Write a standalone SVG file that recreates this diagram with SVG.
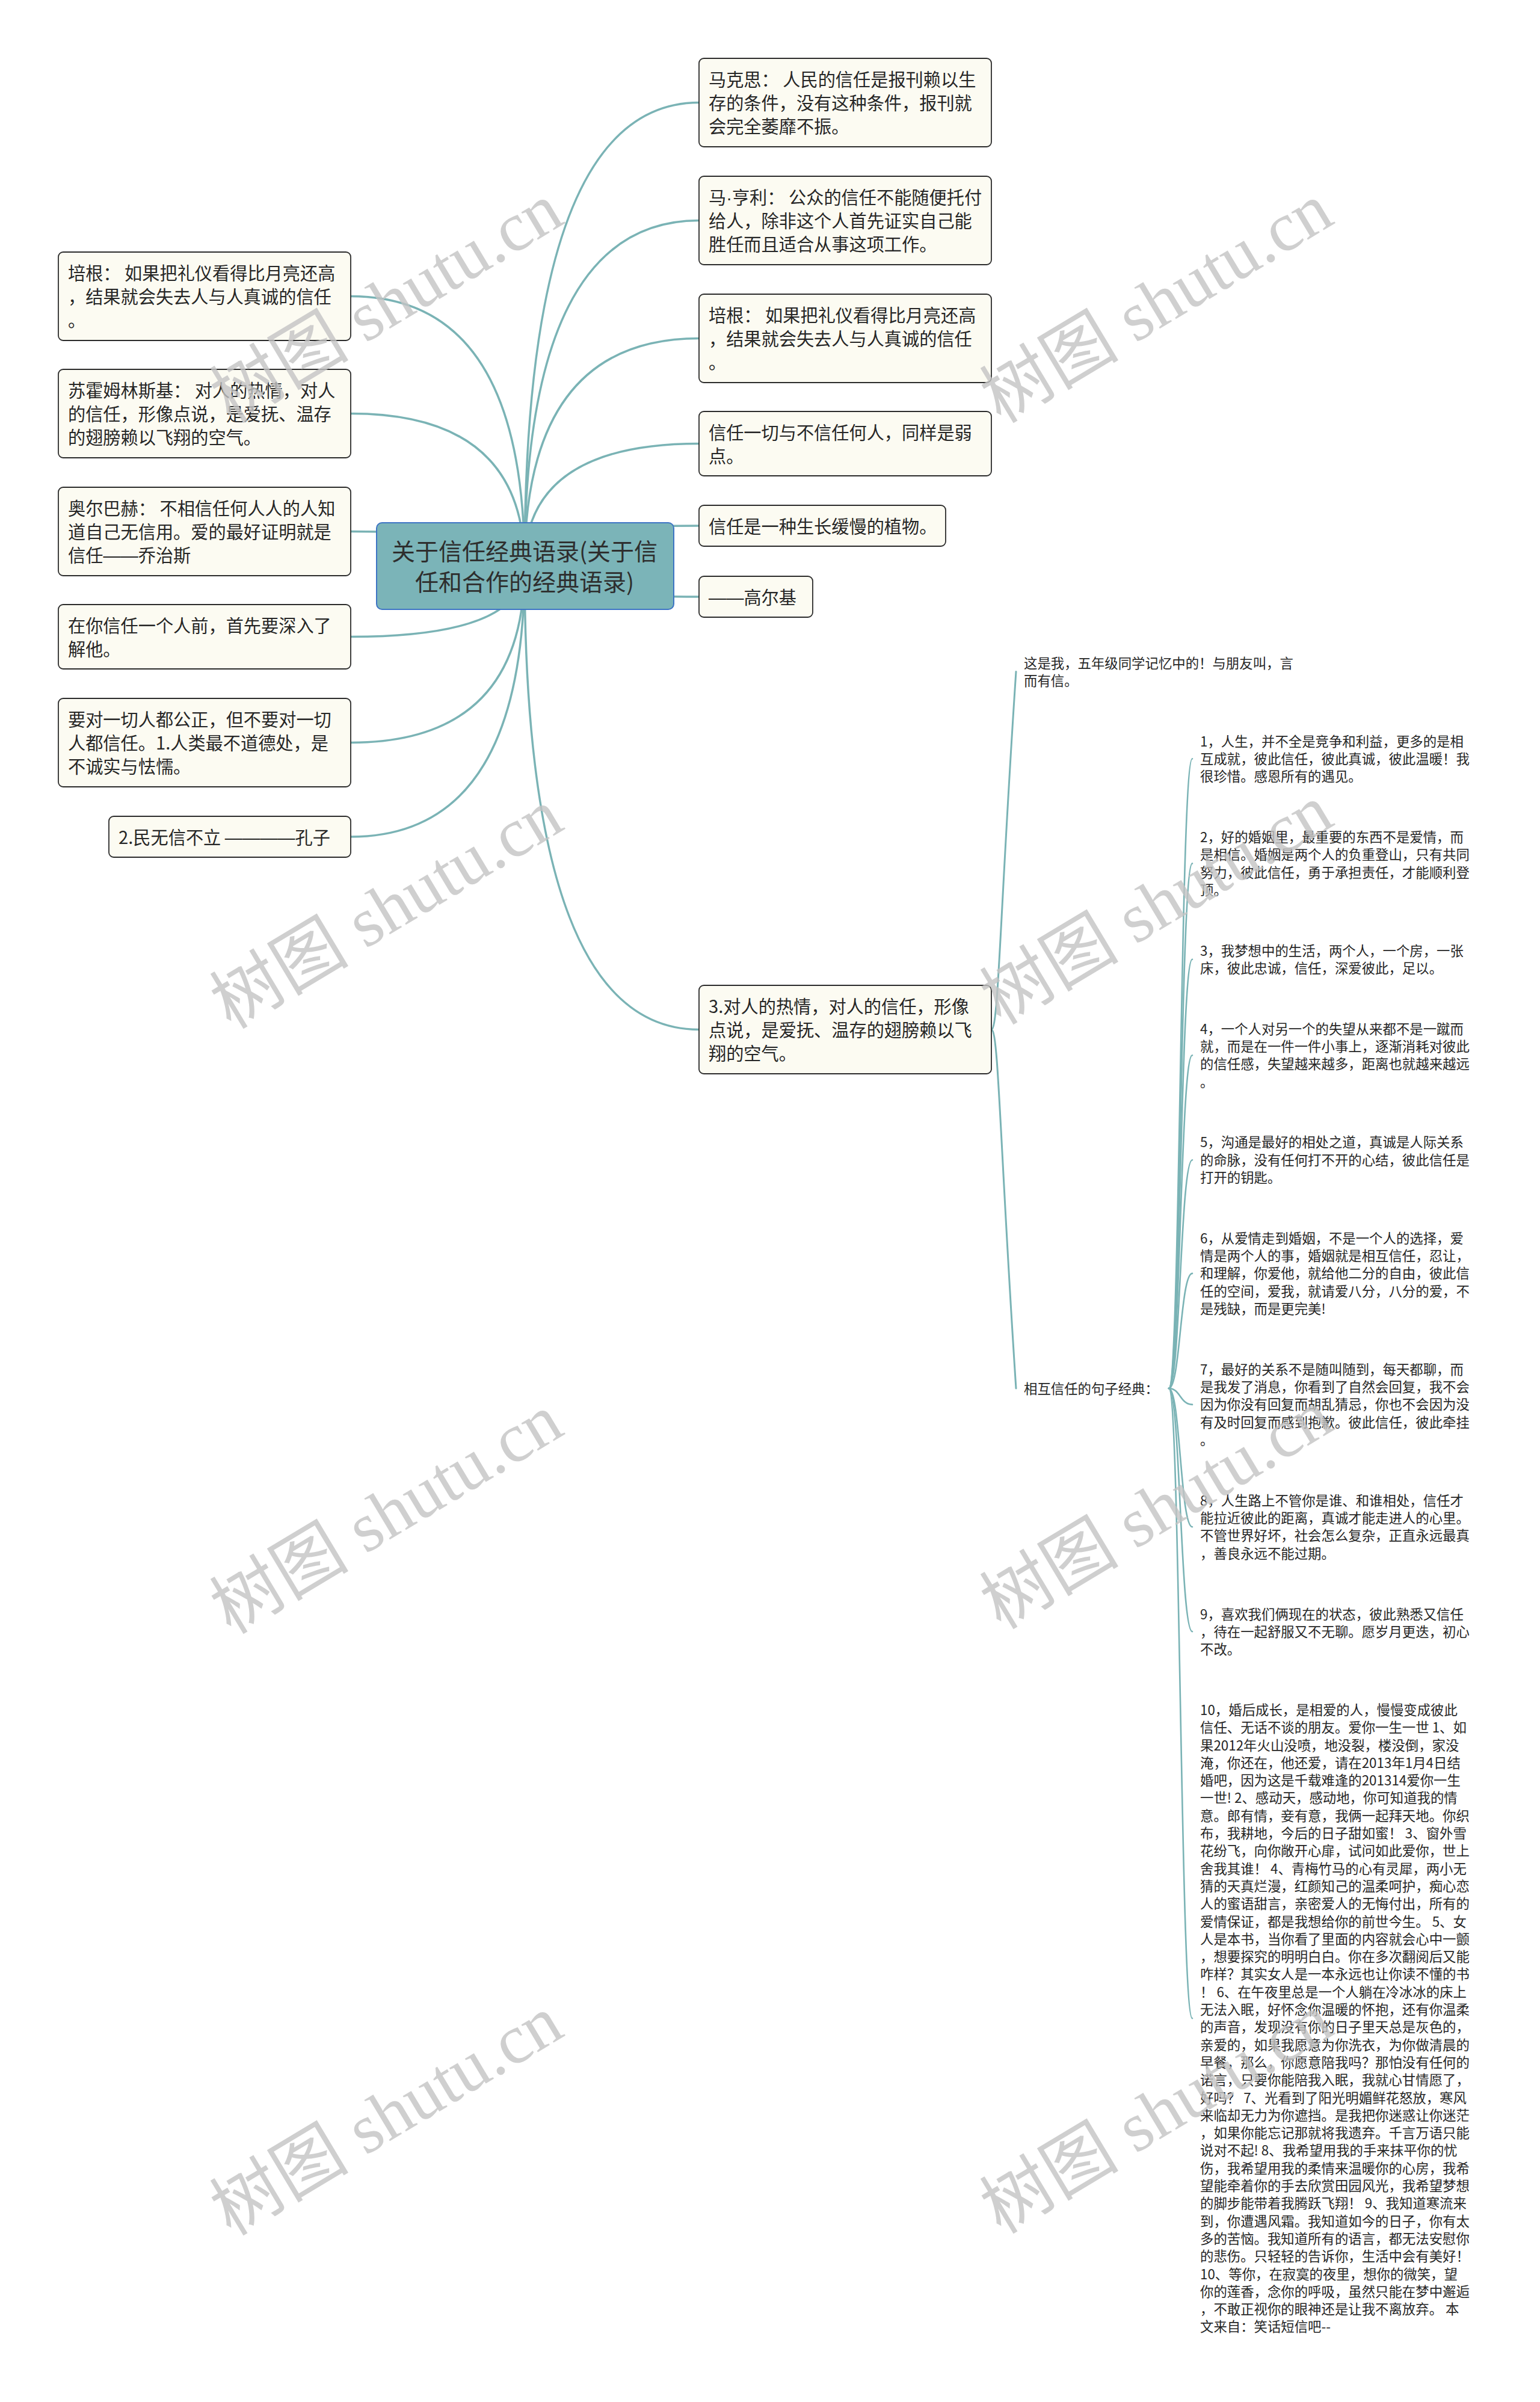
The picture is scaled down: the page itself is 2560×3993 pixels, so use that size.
<svg xmlns="http://www.w3.org/2000/svg" width="2560" height="3993" viewBox="0 0 2560 3993">
<style>
.bx{fill:#fcfbf2;stroke:#2b2b2b;stroke-width:1.8}
.root{fill:#7bb4b8;stroke:#3d74c4;stroke-width:2}
.t{font-family:"Noto Sans CJK SC","Liberation Sans",sans-serif;font-size:29.2px;fill:#262626}
.rt{font-family:"Noto Sans CJK SC","Liberation Sans",sans-serif;font-size:39px;fill:#2e2e2e;text-anchor:middle}
.s{font-family:"Noto Sans CJK SC","Liberation Sans",sans-serif;font-size:22.4px;fill:#262626}
.l{font-family:"Liberation Sans",sans-serif}
.c{fill:none;stroke:#7ab3b5;stroke-width:3.5;stroke-linecap:round}
.c2{fill:none;stroke:#7ab3b5;stroke-width:3;stroke-linecap:round}
.c3{fill:none;stroke:#7ab3b5;stroke-width:2.6;stroke-linecap:round}
.wm{font-family:"Liberation Serif","Noto Sans CJK SC",serif;font-size:116px;fill:#c4c4c4;opacity:0.8;text-anchor:middle}
</style>
<rect width="2560" height="3993" fill="#ffffff"/>
<g id="connectors">
<path class="c" d="M872 941 Q872 170.5 1162 170.5"/>
<path class="c" d="M872 941 Q872 366.5 1162 366.5"/>
<path class="c" d="M872 941 Q872 562.5 1162 562.5"/>
<path class="c" d="M872 941 Q872 737.5 1162 737.5"/>
<path class="c" d="M872 941 Q872 874 1162 874"/>
<path class="c" d="M872 941 Q872 992 1162 992"/>
<path class="c" d="M872 941 Q872 1711.5 1162 1711.5"/>
<path class="c" d="M872 941 Q872 492.5 583 492.5"/>
<path class="c" d="M872 941 Q872 687.5 583 687.5"/>
<path class="c" d="M872 941 Q872 883.5 583 883.5"/>
<path class="c" d="M872 941 Q872 1058.5 583 1058.5"/>
<path class="c" d="M872 941 Q872 1234.5 583 1234.5"/>
<path class="c" d="M872 941 Q872 1391 583 1391"/>
<path class="c2" d="M1648 1711.5 C1660 1711.5 1662 1520 1689 1116.5"/>
<path class="c2" d="M1648 1711.5 C1660 1711.5 1662 1900 1689 2308"/>
<path class="c3" d="M1943 2308 C1962 2308 1962 1261.3 1982 1261.3"/>
<path class="c3" d="M1943 2308 C1962 2308 1962 1435.4 1982 1435.4"/>
<path class="c3" d="M1943 2308 C1962 2308 1962 1594.8 1982 1594.8"/>
<path class="c3" d="M1943 2308 C1962 2308 1962 1754.2 1982 1754.2"/>
<path class="c3" d="M1943 2308 C1962 2308 1962 1928.2 1982 1928.2"/>
<path class="c3" d="M1943 2308 C1962 2308 1962 2116.9 1982 2116.9"/>
<path class="c3" d="M1943 2308 C1962 2308 1962 2334.9 1982 2334.9"/>
<path class="c3" d="M1943 2308 C1962 2308 1962 2538.3 1982 2538.3"/>
<path class="c3" d="M1943 2308 C1962 2308 1962 2712.3 1982 2712.3"/>
<path class="c3" d="M1943 2308 C1962 2308 1962 3355.2 1982 3355.2"/>
</g>
<g id="root">
<rect class="root" x="626" y="869" width="494" height="144" rx="9"/>
<text class="rt" x="872" y="931">关于信任经典语录(关于信</text>
<text class="rt" x="872" y="982">任和合作的经典语录)</text>
</g>
<g id="n-makesi">
<rect class="bx" x="1162" y="97" width="486" height="147" rx="8"/>
<text class="t" x="1178" y="143">马克思：  人民的信任是报刊赖以生</text>
<text class="t" x="1178" y="182">存的条件，没有这种条件，报刊就</text>
<text class="t" x="1178" y="221">会完全萎靡不振。</text>
</g>
<g id="n-mahengli">
<rect class="bx" x="1162" y="293" width="486" height="147" rx="8"/>
<text class="t" x="1178" y="339">马<tspan class="l">·</tspan>亨利：  公众的信任不能随便托付</text>
<text class="t" x="1178" y="378">给人，除非这个人首先证实自己能</text>
<text class="t" x="1178" y="417">胜任而且适合从事这项工作。</text>
</g>
<g id="n-peigen-r">
<rect class="bx" x="1162" y="489" width="486" height="147" rx="8"/>
<text class="t" x="1178" y="535">培根：  如果把礼仪看得比月亮还高</text>
<text class="t" x="1178" y="574">，结果就会失去人与人真诚的信任</text>
<text class="t" x="1178" y="613">。</text>
</g>
<g id="n-xinrenyiqie">
<rect class="bx" x="1162" y="684" width="486" height="107" rx="8"/>
<text class="t" x="1178" y="730">信任一切与不信任何人，同样是弱</text>
<text class="t" x="1178" y="769">点。</text>
</g>
<g id="n-zhiwu">
<rect class="bx" x="1162" y="840" width="410" height="68" rx="8"/>
<text class="t" x="1178" y="886">信任是一种生长缓慢的植物。</text>
</g>
<g id="n-gaoerji">
<rect class="bx" x="1162" y="958" width="189" height="68" rx="8"/>
<text class="t" x="1178" y="1004"><tspan class="l">——</tspan>高尔基</text>
</g>
<g id="n-duirende">
<rect class="bx" x="1162" y="1638" width="486" height="147" rx="8"/>
<text class="t" x="1178" y="1684">3.对人的热情，对人的信任，形像</text>
<text class="t" x="1178" y="1723">点说，是爱抚、温存的翅膀赖以飞</text>
<text class="t" x="1178" y="1762">翔的空气。</text>
</g>
<g id="n-peigen-l">
<rect class="bx" x="97" y="419" width="486" height="147" rx="8"/>
<text class="t" x="113" y="465">培根：  如果把礼仪看得比月亮还高</text>
<text class="t" x="113" y="504">，结果就会失去人与人真诚的信任</text>
<text class="t" x="113" y="543">。</text>
</g>
<g id="n-suhuo">
<rect class="bx" x="97" y="614" width="486" height="147" rx="8"/>
<text class="t" x="113" y="660">苏霍姆林斯基：  对人的热情，对人</text>
<text class="t" x="113" y="699">的信任，形像点说，是爱抚、温存</text>
<text class="t" x="113" y="738">的翅膀赖以飞翔的空气。</text>
</g>
<g id="n-aoerbahe">
<rect class="bx" x="97" y="810" width="486" height="147" rx="8"/>
<text class="t" x="113" y="856">奥尔巴赫：  不相信任何人人的人知</text>
<text class="t" x="113" y="895">道自己无信用。爱的最好证明就是</text>
<text class="t" x="113" y="934">信任<tspan class="l">——</tspan>乔治斯</text>
</g>
<g id="n-zainixinren">
<rect class="bx" x="97" y="1005" width="486" height="107" rx="8"/>
<text class="t" x="113" y="1051">在你信任一个人前，首先要深入了</text>
<text class="t" x="113" y="1090">解他。</text>
</g>
<g id="n-yaoduiyiqie">
<rect class="bx" x="97" y="1161" width="486" height="147" rx="8"/>
<text class="t" x="113" y="1207">要对一切人都公正，但不要对一切</text>
<text class="t" x="113" y="1246">人都信任。1.人类最不道德处，是</text>
<text class="t" x="113" y="1285">不诚实与怯懦。</text>
</g>
<g id="n-minwuxin">
<rect class="bx" x="181" y="1357" width="402" height="68" rx="8"/>
<text class="t" x="197" y="1403">2.民无信不立 <tspan class="l">————</tspan>孔子</text>
</g>
<g id="n-zheshiwo">
<text class="s" x="1702" y="1111">这是我，五年级同学记忆中的！与朋友叫，言</text>
<text class="s" x="1702" y="1140.3">而有信。</text>
</g>
<g id="n-xianghu">
<text class="s" x="1702" y="2316.5">相互信任的句子经典：</text>
</g>
<g id="item-1">
<text class="s" x="1995" y="1240.5">1，人生，并不全是竞争和利益，更多的是相</text>
<text class="s" x="1995" y="1269.8">互成就，彼此信任，彼此真诚，彼此温暖！我</text>
<text class="s" x="1995" y="1299.1">很珍惜。感恩所有的遇见。</text>
</g>
<g id="item-2">
<text class="s" x="1995" y="1399.9">2，好的婚姻里，最重要的东西不是爱情，而</text>
<text class="s" x="1995" y="1429.2">是相信。婚姻是两个人的负重登山，只有共同</text>
<text class="s" x="1995" y="1458.5">努力，彼此信任，勇于承担责任，才能顺利登</text>
<text class="s" x="1995" y="1487.8">顶。</text>
</g>
<g id="item-3">
<text class="s" x="1995" y="1588.6">3，我梦想中的生活，两个人，一个房，一张</text>
<text class="s" x="1995" y="1617.9">床，彼此忠诚，信任，深爱彼此，足以。</text>
</g>
<g id="item-4">
<text class="s" x="1995" y="1718.7">4，一个人对另一个的失望从来都不是一蹴而</text>
<text class="s" x="1995" y="1748">就，而是在一件一件小事上，逐渐消耗对彼此</text>
<text class="s" x="1995" y="1777.3">的信任感，失望越来越多，距离也就越来越远</text>
<text class="s" x="1995" y="1806.6">。</text>
</g>
<g id="item-5">
<text class="s" x="1995" y="1907.4">5，沟通是最好的相处之道，真诚是人际关系</text>
<text class="s" x="1995" y="1936.7">的命脉，没有任何打不开的心结，彼此信任是</text>
<text class="s" x="1995" y="1966">打开的钥匙。</text>
</g>
<g id="item-6">
<text class="s" x="1995" y="2066.8">6，从爱情走到婚姻，不是一个人的选择，爱</text>
<text class="s" x="1995" y="2096.1">情是两个人的事，婚姻就是相互信任，忍让，</text>
<text class="s" x="1995" y="2125.4">和理解，你爱他，就给他二分的自由，彼此信</text>
<text class="s" x="1995" y="2154.7">任的空间，爱我，就请爱八分，八分的爱，不</text>
<text class="s" x="1995" y="2184">是残缺，而是更完美!</text>
</g>
<g id="item-7">
<text class="s" x="1995" y="2284.8">7，最好的关系不是随叫随到，每天都聊，而</text>
<text class="s" x="1995" y="2314.1">是我发了消息，你看到了自然会回复，我不会</text>
<text class="s" x="1995" y="2343.4">因为你没有回复而胡乱猜忌，你也不会因为没</text>
<text class="s" x="1995" y="2372.7">有及时回复而感到抱歉。彼此信任，彼此牵挂</text>
<text class="s" x="1995" y="2402">。</text>
</g>
<g id="item-8">
<text class="s" x="1995" y="2502.8">8，人生路上不管你是谁、和谁相处，信任才</text>
<text class="s" x="1995" y="2532.1">能拉近彼此的距离，真诚才能走进人的心里。</text>
<text class="s" x="1995" y="2561.4">不管世界好坏，社会怎么复杂，正直永远最真</text>
<text class="s" x="1995" y="2590.7">，善良永远不能过期。</text>
</g>
<g id="item-9">
<text class="s" x="1995" y="2691.5">9，喜欢我们俩现在的状态，彼此熟悉又信任</text>
<text class="s" x="1995" y="2720.8">，待在一起舒服又不无聊。愿岁月更迭，初心</text>
<text class="s" x="1995" y="2750.1">不改。</text>
</g>
<g id="item-10">
<text class="s" x="1995" y="2850.9">10，婚后成长，是相爱的人，慢慢变成彼此</text>
<text class="s" x="1995" y="2880.2">信任、无话不谈的朋友。爱你一生一世 1、如</text>
<text class="s" x="1995" y="2909.5">果2012年火山没喷，地没裂，楼没倒，家没</text>
<text class="s" x="1995" y="2938.8">淹，你还在，他还爱，请在2013年1月4日结</text>
<text class="s" x="1995" y="2968.1">婚吧，因为这是千载难逢的201314爱你一生</text>
<text class="s" x="1995" y="2997.4">一世! 2、感动天，感动地，你可知道我的情</text>
<text class="s" x="1995" y="3026.7">意。郎有情，妾有意，我俩一起拜天地。你织</text>
<text class="s" x="1995" y="3056">布，我耕地，今后的日子甜如蜜！ 3、窗外雪</text>
<text class="s" x="1995" y="3085.3">花纷飞，向你敞开心扉，试问如此爱你，世上</text>
<text class="s" x="1995" y="3114.6">舍我其谁！ 4、青梅竹马的心有灵犀，两小无</text>
<text class="s" x="1995" y="3143.9">猜的天真烂漫，红颜知己的温柔呵护，痴心恋</text>
<text class="s" x="1995" y="3173.2">人的蜜语甜言，亲密爱人的无悔付出，所有的</text>
<text class="s" x="1995" y="3202.5">爱情保证，都是我想给你的前世今生。 5、女</text>
<text class="s" x="1995" y="3231.8">人是本书，当你看了里面的内容就会心中一颤</text>
<text class="s" x="1995" y="3261.1">，想要探究的明明白白。你在多次翻阅后又能</text>
<text class="s" x="1995" y="3290.4">咋样？其实女人是一本永远也让你读不懂的书</text>
<text class="s" x="1995" y="3319.7">！ 6、在午夜里总是一个人躺在冷冰冰的床上</text>
<text class="s" x="1995" y="3349">无法入眠，好怀念你温暖的怀抱，还有你温柔</text>
<text class="s" x="1995" y="3378.3">的声音，发现没有你的日子里天总是灰色的，</text>
<text class="s" x="1995" y="3407.6">亲爱的，如果我愿意为你洗衣，为你做清晨的</text>
<text class="s" x="1995" y="3436.9">早餐，那么，你愿意陪我吗？那怕没有任何的</text>
<text class="s" x="1995" y="3466.2">诺言，只要你能陪我入眠，我就心甘情愿了，</text>
<text class="s" x="1995" y="3495.5">好吗？ 7、光看到了阳光明媚鲜花怒放，寒风</text>
<text class="s" x="1995" y="3524.8">来临却无力为你遮挡。是我把你迷惑让你迷茫</text>
<text class="s" x="1995" y="3554.1">，如果你能忘记那就将我遗弃。千言万语只能</text>
<text class="s" x="1995" y="3583.4">说对不起! 8、我希望用我的手来抹平你的忧</text>
<text class="s" x="1995" y="3612.7">伤，我希望用我的柔情来温暖你的心房，我希</text>
<text class="s" x="1995" y="3642">望能牵着你的手去欣赏田园风光，我希望梦想</text>
<text class="s" x="1995" y="3671.3">的脚步能带着我腾跃飞翔！ 9、我知道寒流来</text>
<text class="s" x="1995" y="3700.6">到，你遭遇风霜。我知道如今的日子，你有太</text>
<text class="s" x="1995" y="3729.9">多的苦恼。我知道所有的语言，都无法安慰你</text>
<text class="s" x="1995" y="3759.2">的悲伤。只轻轻的告诉你，生活中会有美好！</text>
<text class="s" x="1995" y="3788.5"> 10、等你，在寂寞的夜里，想你的微笑，望</text>
<text class="s" x="1995" y="3817.8">你的莲香，念你的呼吸，虽然只能在梦中邂逅</text>
<text class="s" x="1995" y="3847.1">，不敢正视你的眼神还是让我不离放弃。 本</text>
<text class="s" x="1995" y="3876.4">文来自：笑话短信吧--</text>
</g>
<g id="watermarks">
<text class="wm" transform="translate(643 505) rotate(-31)" y="38">树图 shutu.cn</text>
<text class="wm" transform="translate(1923 505) rotate(-31)" y="38">树图 shutu.cn</text>
<text class="wm" transform="translate(643 1512) rotate(-31)" y="38">树图 shutu.cn</text>
<text class="wm" transform="translate(1923 1505) rotate(-31)" y="38">树图 shutu.cn</text>
<text class="wm" transform="translate(643 2518) rotate(-31)" y="38">树图 shutu.cn</text>
<text class="wm" transform="translate(1923 2510) rotate(-31)" y="38">树图 shutu.cn</text>
<text class="wm" transform="translate(643 3518) rotate(-31)" y="38">树图 shutu.cn</text>
<text class="wm" transform="translate(1923 3515) rotate(-31)" y="38">树图 shutu.cn</text>
</g>
</svg>
